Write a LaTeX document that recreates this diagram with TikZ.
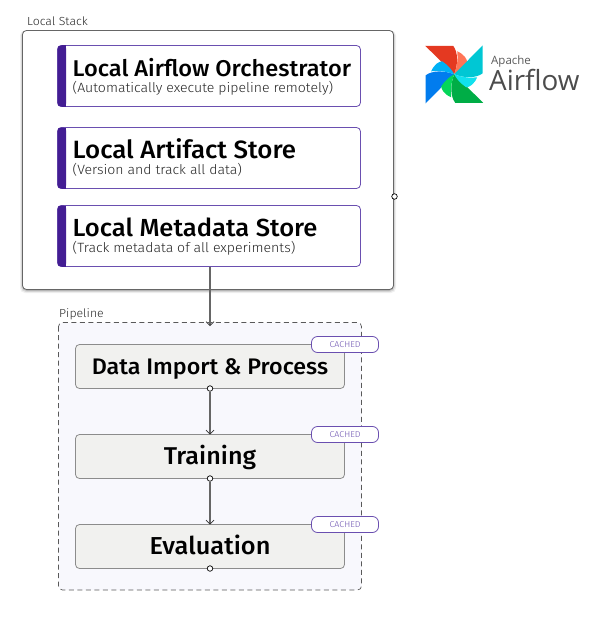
\documentclass[tikz,border=0pt]{standalone}
\usepackage{fontspec}
\setmainfont{Fira Sans}
\newfontfamily\headfont[FakeStretch=1.035]{Fira Sans Medium}
\newfontfamily\subfont[FakeStretch=1.05]{Fira Sans Light}
\newfontfamily\logofont{Open Sans}
\usetikzlibrary{arrows.meta}
\definecolor{stackpurple}{HTML}{6A4FB0}
\definecolor{barpurple}{HTML}{431D93}
\definecolor{pipefill}{HTML}{F8F8FD}
\definecolor{stepfill}{HTML}{F1F1EF}
\definecolor{bladered}{HTML}{E43921}
\definecolor{bladeorange}{HTML}{FF7557}
\definecolor{bladecyan}{HTML}{00C7D4}
\definecolor{bladeice}{HTML}{11E1EE}
\definecolor{bladegreen}{HTML}{00AD46}
\definecolor{blademint}{HTML}{04D659}
\definecolor{bladeblue}{HTML}{017CEE}
\definecolor{bladesky}{HTML}{00B1F5}
\tikzset{
  stackbox/.style={draw=black!60,fill=white,rounded corners=4pt,line width=0.8pt},
  storebox/.style={draw=stackpurple,fill=white,rounded corners=4pt,line width=0.8pt},
  stepbox/.style={draw=black!45,fill=stepfill,rounded corners=4pt,line width=0.8pt},
  cachebox/.style={draw=stackpurple,fill=white,rounded corners=6pt,line width=0.8pt},
  port/.style={draw=black,fill=white,circle,inner sep=0pt,minimum size=5.5pt,line width=0.7pt},
  flow/.style={draw=black!60,line width=1.1pt,-{Straight Barb[length=4pt,width=8pt,black!80,line width=0.7pt]}},
  title/.style={font=\headfont\fontsize{#1}{26}\selectfont,anchor=base west,inner sep=0pt},
  subtitle/.style={font=\subfont\fontsize{13.4}{15}\selectfont,text=black!85,anchor=base west,inner sep=0pt},
  steptext/.style={font=\headfont\fontsize{#1}{26}\selectfont,anchor=base,inner sep=0pt},
  caption/.style={font=\subfont\fontsize{11.7}{13}\selectfont,text=black!85,anchor=base west,inner sep=0pt},
}
\begin{document}
\begin{tikzpicture}[x=1pt,y=-1pt]
\useasboundingbox (0,0) rectangle (603,618);

% local stack
\node[caption] (stacklabel) at (27,26) {Local Stack};
\foreach \s/\o in {3.5/06,2.5/10,1.5/16} {
  \fill[black,opacity=0.\o,rounded corners=5pt] (22.5-\s+1,30.5) rectangle (393.5+\s-1,289.5+\s);
}
\draw[stackbox] (22.5,30.5) rectangle (393.5,289.5);
\node[port] (stackport) at (394.5,196.5) {};

\foreach \y/\name/\size/\head/\sub in {45.5/orchestrator/22.8/Local Airflow Orchestrator/(Automatically execute pipeline remotely),
  127.5/artifact/25/Local Artifact Store/(Version and track all data),
  205.5/metadata/24.7/Local Metadata Store/(Track metadata of all experiments)} {
  \draw[storebox] (57.5,\y) rectangle (360.5,\y+61);
  \fill[barpurple,rounded corners=3pt] (57.5,\y) rectangle (66,\y+61);
  \fill[barpurple] (62,\y) rectangle (66,\y+61);
  \coordinate (\name-bottom) at (210,\y+61);
  \node[title=\size] (\name-head) at (72.5,\y+30.5) {\head};
  \node[subtitle] (\name-sub) at (72.5,\y+47) {\sub};
}

% pipeline
\node[caption] (pipelabel) at (59,317) {Pipeline};
\draw[fill=pipefill,draw=black!65,dash pattern=on 5pt off 3.5pt,rounded corners=4pt,line width=0.7pt] (58.5,322.5) rectangle (361.5,590);
\coordinate (pipetop) at (210,326);

\foreach \y/\name/\size/\head in {344.5/import/22.5/Data Import \& Process,434.5/training/24.3/Training,524.5/evaluation/24.5/Evaluation} {
  \draw[stepbox] (75.5,\y) rectangle (344.5,\y+44);
  \node[steptext=\size] (\name-text) at (210,\y+30) {\head};
  \draw[cachebox] (311.5,\y-8) rectangle (378.5,\y+8);
  \node[font=\subfont\fontsize{8.5}{10}\selectfont,text=stackpurple] (\name-cache) at (345,\y) {CACHED};
  \coordinate (\name-in) at (210,\y);
  \node[port] (\name-out) at (210,\y+44) {};
}

\draw[flow] (metadata-bottom) -- (pipetop);
\draw[flow] (import-out) -- (training-in);
\draw[flow] (training-out) -- (evaluation-in);

% logo
\begin{scope}[shift={(454.2,74.3)}]
\foreach \r/\main/\side in {0/bladered/bladeorange,90/bladeblue/bladesky,180/bladegreen/blademint,270/bladecyan/bladeice} {
  \fill[\main,rotate=\r] (-29,-28.5) -- (-1,-28.5) .. controls (4,-22) and (4,-10) .. (0,0) -- cycle;
  \fill[\side,rotate=\r] (3,-23) .. controls (10,-20) and (13,-15) .. (13,-12) .. controls (9,-6) and (4,-2) .. (0,0) .. controls (3,-8) and (4,-16) .. (3,-23) -- cycle;
}
\end{scope}
\node[font=\logofont\fontsize{11.5}{13}\selectfont,text=black!65,anchor=base west,inner sep=0pt] (apache) at (491,64) {Apache};
\node[font=\logofont\fontsize{27.8}{29}\selectfont,text=black!70,anchor=base west,inner sep=0pt] (airflow) at (489,90.5) {Airflow};
\end{tikzpicture}
\end{document}
